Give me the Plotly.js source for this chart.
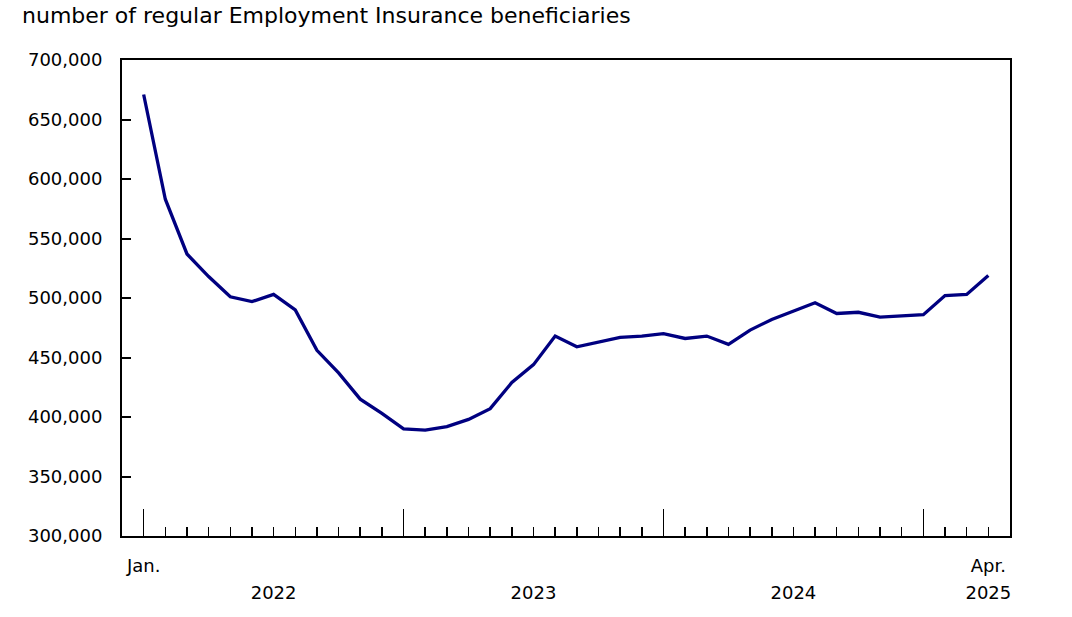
<!DOCTYPE html>
<html>
<head>
<meta charset="utf-8">
<script src="https://cdn.plot.ly/plotly-3.0.1.min.js"></script>
<style>
  html, body { margin: 0; padding: 0; background: #ffffff; }
  #myDiv { width: 1072px; height: 617px; }
</style>
</head>
<body>
<div id="myDiv"></div>
<script>
// periodo (mes a mes), jan. 2022 a abr. 2025
var periodo = [
  '2022-01', '2022-02', '2022-03', '2022-04', '2022-05', '2022-06',
  '2022-07', '2022-08', '2022-09', '2022-10', '2022-11', '2022-12',
  '2023-01', '2023-02', '2023-03', '2023-04', '2023-05', '2023-06',
  '2023-07', '2023-08', '2023-09', '2023-10', '2023-11', '2023-12',
  '2024-01', '2024-02', '2024-03', '2024-04', '2024-05', '2024-06',
  '2024-07', '2024-08', '2024-09', '2024-10', '2024-11', '2024-12',
  '2025-01', '2025-02', '2025-03', '2025-04'
];

// numero de beneficiarios regulares do seguro-emprego
var beneficiarios = [
  671000, 583000, 537000, 518000, 501000, 497000,
  503000, 490000, 456000, 437000, 415000, 403000,
  390000, 389000, 392000, 398000, 407000, 429000,
  444000, 468000, 459000, 463000, 467000, 468000,
  470000, 466000, 468000, 461000, 473000, 482000,
  489000, 496000, 487000, 488000, 484000, 485000,
  486000, 502000, 503000, 519000
];

var rotulosMes = ['Jan.', 'Apr.'];
var anos = ['2022', '2023', '2024', '2025'];

var titulo = 'number of regular Employment Insurance beneficiaries';

/* eixo x numerico: um indice por mes, espacamento uniforme */
var indices = periodo.map(function (p, i) { return i; });

var janeiros = [];
for (var i in periodo) {
  if (periodo[i].slice(5) === '01') {
    janeiros.push(Number(i));
  }
}

/* posicao do rotulo do ano: meio do ano se completo, senao ultimo mes */
var posAnos = [];
for (var a in anos) {
  var idx = indices.filter(function (k) { return periodo[k].slice(0, 4) === anos[a]; });
  if (idx.length === 12) {
    posAnos.push(idx[0] + 6);
  } else {
    posAnos.push(idx[idx.length - 1]);
  }
}

var posMes = [indices[0], indices[indices.length - 1]];
var faixaX = [-1, periodo.length];

var fonte = { family: 'DejaVu Sans, Verdana, sans-serif', size: 18, color: '#000000' };
var fonteTitulo = { family: 'DejaVu Sans, Verdana, sans-serif', size: 22, color: '#000000' };

var trace1 = {
  x: indices,
  y: beneficiarios,
  type: 'scatter',
  mode: 'lines',
  line: { color: '#000080', width: 3.3 },
  hoverinfo: 'skip',
  showlegend: false
};

// traces invisiveis so para os eixos de rotulos aparecerem
var trace2 = {
  x: indices, y: beneficiarios, xaxis: 'x2', type: 'scatter', mode: 'none',
  hoverinfo: 'skip', showlegend: false
};
var trace3 = {
  x: indices, y: beneficiarios, xaxis: 'x3', type: 'scatter', mode: 'none',
  hoverinfo: 'skip', showlegend: false
};

var layout = {
  width: 1072,
  height: 617,
  margin: { l: 122, r: 62, t: 60, b: 81 },
  paper_bgcolor: '#ffffff',
  plot_bgcolor: '#ffffff',
  font: fonte,
  showlegend: false,
  title: {
    text: titulo,
    font: fonteTitulo,
    xref: 'container', x: 22 / 1072, xanchor: 'left',
    yref: 'container', y: 1 - 15 / 617, yanchor: 'middle'
  },
  xaxis: {
    range: faixaX,
    tickmode: 'array',
    tickvals: janeiros,
    showticklabels: false,
    ticks: 'inside',
    ticklen: 27,
    tickwidth: 1.5,
    tickcolor: '#000000',
    minor: {
      tickmode: 'array',
      tickvals: indices,
      ticks: 'inside',
      ticklen: 9,
      tickwidth: 1.5,
      tickcolor: '#000000',
      showgrid: false
    },
    showline: true,
    mirror: true,
    linecolor: '#000000',
    linewidth: 2,
    showgrid: false,
    zeroline: false,
    fixedrange: true
  },
  xaxis2: {
    overlaying: 'x',
    anchor: 'y',
    side: 'bottom',
    range: faixaX,
    tickmode: 'array',
    tickvals: posMes,
    ticktext: rotulosMes,
    ticks: '',
    ticklabelstandoff: 17,
    tickfont: fonte,
    showline: false,
    showgrid: false,
    zeroline: false,
    fixedrange: true
  },
  xaxis3: {
    overlaying: 'x',
    anchor: 'y',
    side: 'bottom',
    range: faixaX,
    tickmode: 'array',
    tickvals: posAnos,
    ticktext: anos,
    ticks: '',
    ticklabelstandoff: 44,
    tickfont: fonte,
    showline: false,
    showgrid: false,
    zeroline: false,
    fixedrange: true
  },
  yaxis: {
    range: [300000, 700000],
    tick0: 0,
    dtick: 50000,
    tickformat: ',d',
    ticks: 'inside',
    ticklen: 9,
    tickwidth: 2,
    tickcolor: '#000000',
    ticklabelstandoff: 14,
    tickfont: fonte,
    showline: true,
    mirror: true,
    linecolor: '#000000',
    linewidth: 2,
    showgrid: false,
    zeroline: false,
    fixedrange: true
  }
};

Plotly.newPlot('myDiv', [trace1, trace2, trace3], layout, { displayModeBar: false, staticPlot: true });
</script>
</body>
</html>
